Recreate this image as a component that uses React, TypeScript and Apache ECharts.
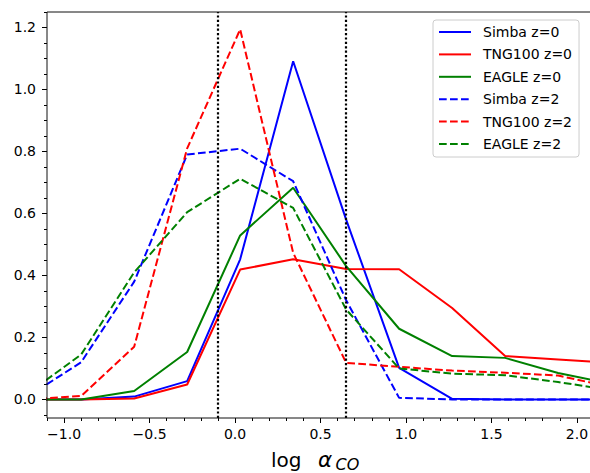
import React, { useEffect, useRef } from "react";
import * as echarts from "echarts";

// ---- data ----
const xBins = [-1.21, -0.9, -0.59, -0.28, 0.03, 0.34, 0.65, 0.96, 1.27, 1.58, 1.89, 2.2];
const simbaZ0 = [0.0, 0.0, 0.009, 0.059, 0.452, 1.091, 0.58, 0.102, 0.002, 0.0, 0.0, 0.0];
const tngZ0 = [0.0, 0.0, 0.003, 0.048, 0.419, 0.452, 0.421, 0.42, 0.295, 0.14, 0.129, 0.118];
const eagleZ0 = [0.0, 0.0, 0.027, 0.153, 0.529, 0.683, 0.43, 0.228, 0.14, 0.134, 0.085, 0.05];
const simbaZ2 = [0.01, 0.12, 0.38, 0.79, 0.809, 0.704, 0.32, 0.005, 0.0, 0.0, 0.0, 0.0];
const tngZ2 = [0.0, 0.011, 0.17, 0.81, 1.194, 0.473, 0.118, 0.105, 0.093, 0.086, 0.077, 0.04];
const eagleZ2 = [0.02, 0.145, 0.41, 0.604, 0.712, 0.618, 0.29, 0.1, 0.083, 0.078, 0.056, 0.03];
const seriesNames = ["Simba z=0", "TNG100 z=0", "EAGLE z=0", "Simba z=2", "TNG100 z=2", "EAGLE z=2"];
const vLines = [-0.097, 0.65];
const xMajorTicks = [-1.0, 2.0, 0.5]; // min, max, step
const yMajorTicks = [0.0, 1.2, 0.2];
const xTitleParts = ["log", "\u03b1", "CO"];

// ---- layout ----
const W = 590, H = 473;
const GL = 47, GT = 12, GW = 547, GH = 406;
const X_MIN = -1.1, X_MAX = 2.1, Y_MIN = -0.06, Y_MAX = 1.25;
const xPx = (v: number) => GL + ((v - X_MIN) / (X_MAX - X_MIN)) * GW;
const yPx = (v: number) => GT + ((Y_MAX - v) / (Y_MAX - Y_MIN)) * GH;

const FONT = "DejaVu Sans";
const fmt = (v: number) => (v < -1e-9 ? "\u2212" + Math.abs(v).toFixed(1) : Math.abs(v).toFixed(1));

const pairs = (ys: number[]) => xBins.map((x, i) => [x, ys[i]]);

export default function App() {
  const ref = useRef<HTMLDivElement>(null);
  useEffect(() => {
    if (!ref.current) return;
    const chart = echarts.init(ref.current, null, { renderer: "svg" });
    const tickLine = { color: "#000", width: 1 };
    const hiddenAxis = (gridIndex: number) => ({ type: "value", gridIndex, show: false, min: 0, max: 1 });
    const solid = (c: string) => ({ color: c, width: 2, type: "solid" });
    const dashed = (c: string) => ({ color: c, width: 2, type: [7.7, 3.3] });
    const mk = (name: string, ys: number[], ls: any, extra: any = {}) => ({
      name,
      type: "line",
      xAxisIndex: 0,
      yAxisIndex: 0,
      data: pairs(ys),
      symbol: "none",
      clip: true,
      lineStyle: ls,
      itemStyle: { color: ls.color },
      ...extra,
    });
    const gridBase = { containLabel: false, outerBoundsMode: "none" };
    const titleText = (text: string, x: number, y: number, size: number, italic: boolean) => ({
      type: "text",
      x,
      y,
      silent: true,
      style: {
        text,
        fontSize: size,
        fontFamily: FONT,
        fontStyle: italic ? "italic" : "normal",
        fill: "#000",
        textAlign: "left",
        textVerticalAlign: "middle",
      },
    });
    const option: any = {
      animation: false,
      backgroundColor: "#fff",
      graphic: [
        titleText(xTitleParts[0], 271, 459.5, 20, false),
        titleText(xTitleParts[1], 318, 459.2, 21.5, true),
        titleText(xTitleParts[2], 335.5, 464.8, 16, true),
      ],
      grid: [
        { ...gridBase, left: GL, top: GT, width: GW, height: GH, show: true, borderColor: "#111", borderWidth: 1, backgroundColor: "transparent", z: 10 },
        { ...gridBase, left: xPx(xMajorTicks[0]), top: GT, width: xPx(xMajorTicks[1]) - xPx(xMajorTicks[0]), height: GH },
        { ...gridBase, left: GL, top: yPx(yMajorTicks[1]), width: GW, height: yPx(yMajorTicks[0]) - yPx(yMajorTicks[1]) },
        { ...gridBase, left: GL, top: yPx(1.25), width: GW, height: yPx(-0.05) - yPx(1.25) },
      ],
      xAxis: [
        {
          type: "value", gridIndex: 0, min: X_MIN, max: X_MAX, interval: 0.1,
          axisLine: { show: false, onZero: false },
          axisTick: { show: true, length: 3, lineStyle: tickLine },
          axisLabel: { show: false },
          splitLine: { show: false },
        },
        {
          type: "value", gridIndex: 1, min: xMajorTicks[0], max: xMajorTicks[1], interval: xMajorTicks[2],
          axisLine: { show: false, onZero: false },
          axisTick: { show: true, length: 5, lineStyle: tickLine },
          axisLabel: { show: true, margin: 9, fontSize: 14, fontFamily: FONT, color: "#000", formatter: fmt },
          splitLine: { show: false },
        },
        hiddenAxis(2),
        hiddenAxis(3),
      ],
      yAxis: [
        {
          type: "value", gridIndex: 0, min: Y_MIN, max: Y_MAX, interval: 0.01,
          axisLine: { show: false, onZero: false }, axisTick: { show: false }, axisLabel: { show: false }, splitLine: { show: false },
        },
        hiddenAxis(1),
        {
          type: "value", gridIndex: 2, min: yMajorTicks[0], max: yMajorTicks[1], interval: yMajorTicks[2],
          axisLine: { show: false, onZero: false },
          axisTick: { show: true, length: 5, lineStyle: tickLine },
          axisLabel: { show: true, margin: 11, fontSize: 14, fontFamily: FONT, color: "#000", formatter: fmt },
          splitLine: { show: false },
        },
        {
          type: "value", gridIndex: 3, min: -0.05, max: 1.25, interval: 0.05,
          axisLine: { show: false, onZero: false },
          axisTick: { show: true, length: 3, lineStyle: tickLine },
          axisLabel: { show: false },
          splitLine: { show: false },
        },
      ],
      legend: {
        data: seriesNames,
        orient: "vertical",
        left: 433,
        top: 20,
        padding: [5, 7, 6, 5],
        itemGap: 8.4,
        itemWidth: 32,
        itemHeight: 14,
        itemStyle: { opacity: 0 },
        backgroundColor: "rgba(255,255,255,0.8)",
        borderColor: "#cccccc",
        borderWidth: 1,
        borderRadius: 3,
        textStyle: { fontSize: 14, fontFamily: FONT, color: "#000", padding: [0, 0, 0, 7] },
        z: 20,
      },
      series: [
        mk(seriesNames[0], simbaZ0, solid("#0000ff")),
        mk(seriesNames[1], tngZ0, solid("#ff0000")),
        mk(seriesNames[2], eagleZ0, solid("#008000")),
        mk(seriesNames[3], simbaZ2, dashed("#0000ff")),
        mk(seriesNames[4], tngZ2, dashed("#ff0000")),
        mk(seriesNames[5], eagleZ2, dashed("#008000"), {
          markLine: {
            silent: true,
            symbol: ["none", "none"],
            label: { show: false },
            lineStyle: { color: "#000", width: 2.2, type: [2.2, 2.2] },
            data: vLines.map((v) => ({ xAxis: v })),
          },
        }),
      ],
    };
    chart.setOption(option);
    return () => chart.dispose();
  }, []);
  return <div ref={ref} style={{ position: "fixed", left: 0, top: 0, width: W, height: H }} />;
}
